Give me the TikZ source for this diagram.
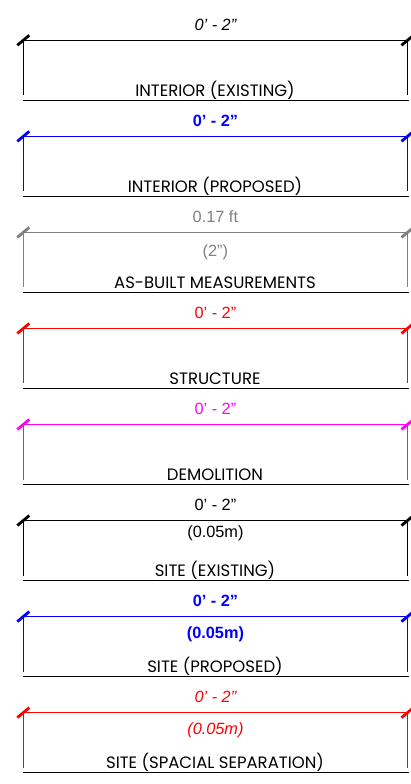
\documentclass[tikz,border=0pt]{standalone}
\usepackage{fontspec}
\setmainfont{Liberation Sans}
\newfontfamily\titlefont{Poppins}
\usetikzlibrary{calc}
\definecolor{cblue}{RGB}{0,0,255}
\definecolor{cred}{RGB}{255,0,0}
\definecolor{cmag}{RGB}{255,0,255}
\definecolor{cgray}{RGB}{128,128,128}
\newcommand{\ft}{\char39}
\newcommand{\inch}{\char34}
\tikzset{
  dimline/.style={line width=1pt},
  tickmark/.style={line width=2.8pt},
  dimtext/.style={inner sep=0pt, anchor=base},
  titletext/.style={inner sep=0pt, anchor=base, text=black, font=\titlefont\fontsize{16.5}{16.5}\selectfont},
  underline/.style={line width=1.2pt, black}
}
\newcommand{\dimblock}[7]{%
  % #1 index, #2 colour, #3 font switch, #4 upper text, #5 lower text, #6 lower offset, #7 title
  \pgfmathsetmacro{\yy}{-(40.3+96.05*#1)}
  \coordinate (L#1) at (23.3,\yy);
  \coordinate (R#1) at (407.5,\yy);
  \coordinate (LB#1) at (23.3,\yy-55);
  \coordinate (RB#1) at (407.5,\yy-55);
  \coordinate (UL#1) at (23.3,\yy-60);
  \coordinate (UR#1) at (408.5,\yy-60);
  \draw[dimline,#2] (L#1) -- (R#1);
  \draw[dimline,#2] (L#1) -- (LB#1);
  \draw[dimline,#2] (R#1) -- (RB#1);
  \draw[tickmark,#2] ($(L#1)+(-6,-5)$) -- ($(L#1)+(6,5)$);
  \draw[tickmark,#2] ($(R#1)+(-6,-5)$) -- ($(R#1)+(6,5)$);
  \node[dimtext,text=#2,font={\fontsize{16.3}{16.3}\selectfont#3}] (T#1) at (215.4,\yy+10) {#4};
  \node[dimtext,text=#2,font={\fontsize{16.3}{16.3}\selectfont#3}] (S#1) at (215.4,\yy-#6) {#5};
  \node[titletext] (N#1) at (215,\yy-55.7) {#7};
  \draw[underline] (UL#1) -- (UR#1);
}
\begin{document}
\begin{tikzpicture}[x=1pt,y=1pt]
\useasboundingbox (0,0) rectangle (410,-784);
\dimblock{0}{black}{\itshape}{0\ft{} - 2\inch}{}{20}{INTERIOR (EXISTING)}
\dimblock{1}{cblue}{\bfseries}{0\ft{} - 2\inch}{}{20}{INTERIOR (PROPOSED)}
\dimblock{2}{cgray}{}{0.17 ft}{(2\inch)}{24}{AS-BUILT MEASUREMENTS}
\dimblock{3}{cred}{}{0\ft{} - 2\inch}{}{20}{STRUCTURE}
\dimblock{4}{cmag}{}{0\ft{} - 2\inch}{}{20}{DEMOLITION}
\dimblock{5}{black}{}{0\ft{} - 2\inch}{(0.05m)}{17}{SITE (EXISTING)}
\dimblock{6}{cblue}{\bfseries}{0\ft{} - 2\inch}{(0.05m)}{22}{SITE (PROPOSED)}
\dimblock{7}{cred}{\itshape}{0\ft{} - 2\inch}{(0.05m)}{22}{SITE (SPACIAL SEPARATION)}
\end{tikzpicture}
\end{document}
